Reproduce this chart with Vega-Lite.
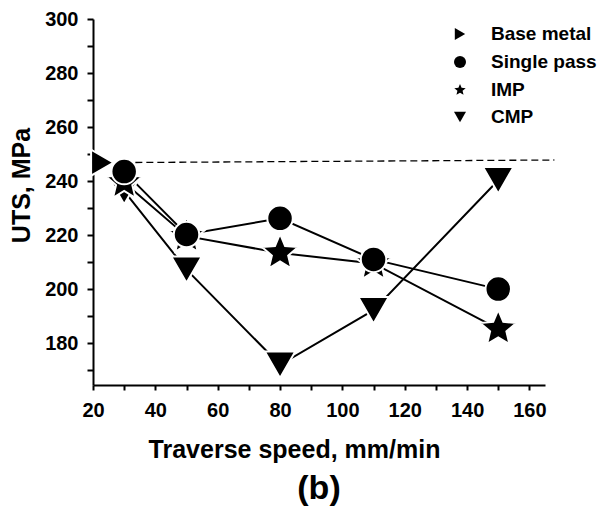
{
  "$schema": "https://vega.github.io/schema/vega-lite/v6.json",
  "width": 452,
  "height": 366,
  "autosize": "none",
  "padding": {"left": 93, "top": 19, "right": 62, "bottom": 121},
  "background": "white",
  "config": {
    "view": {"stroke": null},
    "font": "Liberation Sans",
    "axis": {
      "domainColor": "black",
      "domainWidth": 2,
      "tickColor": "black",
      "tickWidth": 2,
      "labelColor": "black",
      "labelFont": "Liberation Sans",
      "labelFontWeight": "bold",
      "labelFontSize": 20,
      "titleColor": "black",
      "titleFont": "Liberation Sans",
      "titleFontWeight": "bold",
      "titleFontSize": 25,
      "grid": false,
      "labelOverlap": false,
      "labelFlush": false
    }
  },
  "title": {
    "text": "(b)",
    "orient": "bottom",
    "anchor": "middle",
    "font": "Liberation Sans",
    "fontSize": 34,
    "fontWeight": "bold",
    "color": "black",
    "offset": 10
  },
  "datasets": {
    "points": [
      {"series": "CMP", "speed": 30, "uts": 236.3},
      {"series": "CMP", "speed": 50, "uts": 207.2},
      {"series": "CMP", "speed": 80, "uts": 172.0},
      {"series": "CMP", "speed": 110, "uts": 192.2},
      {"series": "CMP", "speed": 150, "uts": 240.3},
      {"series": "IMP", "speed": 30, "uts": 239.5},
      {"series": "IMP", "speed": 50, "uts": 219.6},
      {"series": "IMP", "speed": 80, "uts": 213.4},
      {"series": "IMP", "speed": 110, "uts": 209.5},
      {"series": "IMP", "speed": 150, "uts": 185.3},
      {"series": "Single pass", "speed": 30, "uts": 243.5},
      {"series": "Single pass", "speed": 50, "uts": 220.2},
      {"series": "Single pass", "speed": 80, "uts": 226.2},
      {"series": "Single pass", "speed": 110, "uts": 211.0},
      {"series": "Single pass", "speed": 150, "uts": 200.0},
      {"series": "Base metal", "speed": 23, "uts": 246.8}
    ],
    "baseline": [
      {"speed": 23, "uts": 246.8},
      {"speed": 168, "uts": 247.8}
    ]
  },
  "encoding": {
    "x": {
      "field": "speed",
      "type": "quantitative",
      "scale": {"domain": [20, 165], "nice": false, "zero": false},
      "axis": {
        "title": "Traverse speed, mm/min",
        "values": [20, 30, 40, 50, 60, 70, 80, 90, 100, 110, 120, 130, 140, 150, 160],
        "labelExpr": "datum.value % 20 == 0 ? datum.label : ''",
        "tickSize": 5,
        "labelPadding": 10,
        "titlePadding": 17,
        "titleX": 201,
        "encode": {"ticks": {"y2": {"value": {"expr": "datum.value % 20 == 0 ? 5 : 3"}}}}
      }
    },
    "y": {
      "field": "uts",
      "type": "quantitative",
      "scale": {"domain": [164.5, 300], "nice": false, "zero": false},
      "axis": {
        "title": "UTS, MPa",
        "values": [170, 180, 190, 200, 210, 220, 230, 240, 250, 260, 270, 280, 290, 300],
        "labelExpr": "datum.value % 20 == 0 ? datum.label : ''",
        "tickSize": 6,
        "labelPadding": 9,
        "titlePadding": 10,
        "titleY": 166,
        "encode": {"ticks": {"x2": {"value": {"expr": "datum.value % 20 == 0 ? -6 : -3"}}}}
      }
    }
  },
  "layer": [
    {
      "data": {"name": "baseline"},
      "mark": {"type": "line", "color": "black", "strokeWidth": 1.3, "strokeDash": [7, 4], "clip": false},
      "encoding": {}
    },
    {
      "data": {"name": "points"},
      "transform": [{"filter": "datum.series != 'Base metal'"}],
      "mark": {"type": "line", "color": "black", "strokeWidth": 2},
      "encoding": {"detail": {"field": "series", "type": "nominal"}}
    },
    {
      "data": {"name": "points"},
      "mark": {"type": "point", "filled": true, "fill": "black", "stroke": "white", "strokeWidth": 2, "opacity": 1},
      "encoding": {
        "shape": {
          "field": "series",
          "type": "nominal",
          "scale": {
            "domain": ["Base metal", "Single pass", "IMP", "CMP"],
            "range": ["triangle-right", "circle", "M0,-1L0.265,-0.364L0.951,-0.309L0.428,0.139L0.588,0.809L0,0.45L-0.588,0.809L-0.428,0.139L-0.951,-0.309L-0.265,-0.364Z", "triangle-down"]
          },
          "legend": {
            "title": null,
            "orient": "none",
            "legendX": 357.5,
            "legendY": 5.5,
            "padding": 0,
            "labelFont": "Liberation Sans",
            "labelFontSize": 19,
            "labelFontWeight": "bold",
            "labelColor": "black",
            "labelOffset": 21.5,
            "rowPadding": 7,
            "symbolSize": 144,
            "symbolFillColor": "black",
            "symbolStrokeColor": "black",
            "symbolStrokeWidth": 2,
            "symbolOpacity": 1,
            "encode": {
              "symbols": {
                "shape": {"value": {"expr": "datum.value == 'Base metal' ? 'M-4.17,0L-3.33,0M-0.83,-1.15L1.17,0L-0.83,1.15ZM1.17,0L4.17,0' : datum.value == 'Single pass' ? 'M-4.17,0L-1,0M1,0L4.17,0M1,0L0.924,0.383L0.707,0.707L0.383,0.924L0,1L-0.383,0.924L-0.707,0.707L-0.924,0.383L-1,0L-0.924,-0.383L-0.707,-0.707L-0.383,-0.924L0,-1L0.383,-0.924L0.707,-0.707L0.924,-0.383Z' : datum.value == 'IMP' ? 'M-4.17,0L-1.1,0M1.1,0L4.17,0M0,-1.25L0.294,-0.405L1.189,-0.386L0.476,0.155L0.735,1.011L0,0.5L-0.735,1.011L-0.476,0.155L-1.189,-0.386L-0.294,-0.405Z' : 'M-4.17,0L-0.7,0M0.7,0L4.17,0M-1.15,-0.85L1.15,-0.85L0,1.15Z'"}},
                "fill": {"value": "black"},
                "stroke": {"value": "black"},
                "strokeWidth": {"value": 2},
                "opacity": {"value": 1}
              }
            }
          }
        },
        "size": {
          "condition": [
            {"test": "datum.series == 'IMP'", "value": 1450},
            {"test": "datum.series == 'CMP'", "value": 930},
            {"test": "datum.series == 'Base metal'", "value": 676}
          ],
          "value": 650
        }
      }
    }
  ]
}
